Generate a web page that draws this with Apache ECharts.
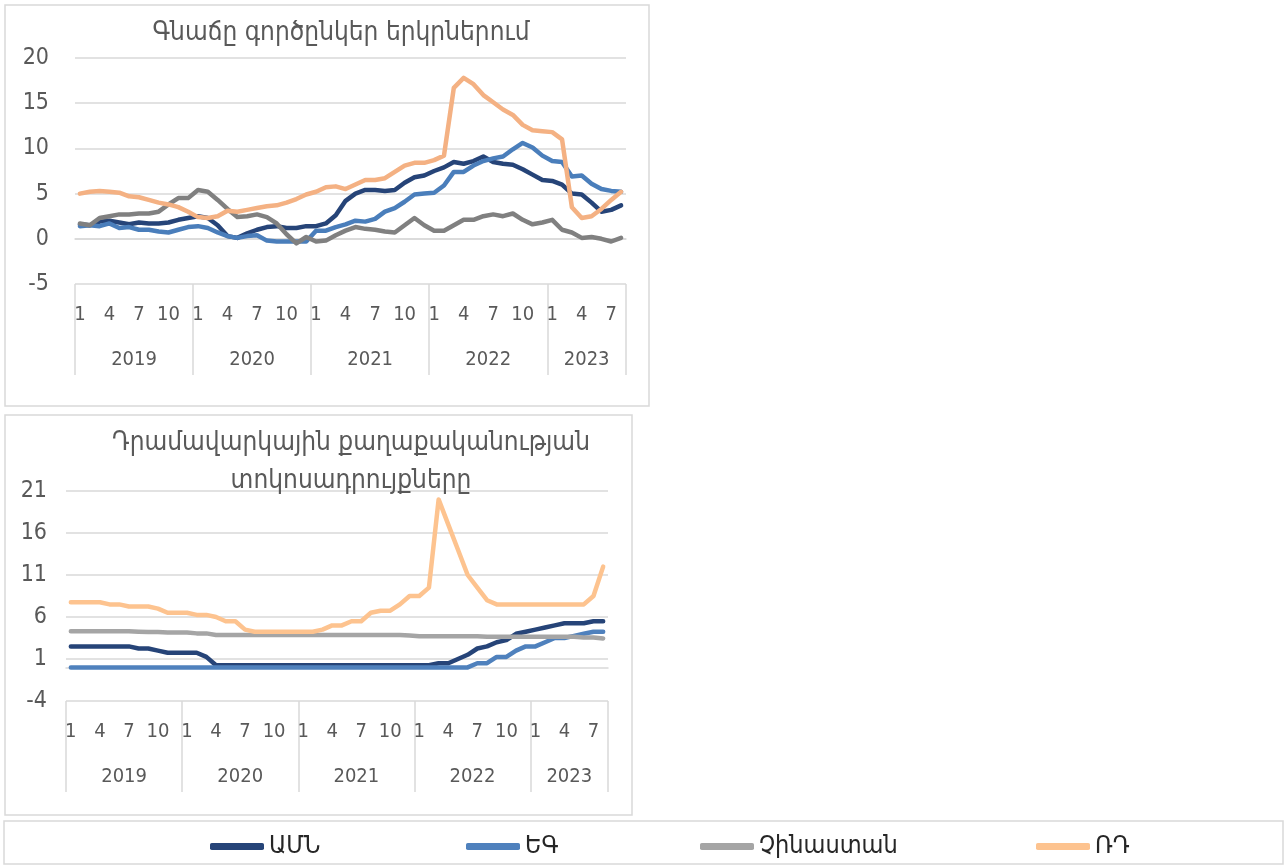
<!DOCTYPE html>
<html>
<head>
<meta charset="utf-8">
<script src="https://cdn.jsdelivr.net/npm/echarts@6/dist/echarts.min.js"></script>
<style>
    html, body { margin: 0; padding: 0; background: #fff; }
    #chart { width: 1287px; height: 866px; }
</style>
</head>
<body>
<div id="chart"></div>
<script>
    // tick labels / categories
    var years = ['2019', '2020', '2021', '2022', '2023'];
    var monthsPerYear = [12, 12, 12, 12, 8];
    var seriesNames = ['ԱՄՆ', 'ԵԳ', 'Չինաստան', 'ՌԴ'];

    // inflation, % y/y (top panel)
    var usInfl = [1.6, 1.5, 1.9, 2.0, 1.8, 1.6, 1.8, 1.7, 1.7, 1.8, 2.1, 2.3,
        2.5, 2.3, 1.5, 0.3, 0.1, 0.6, 1.0, 1.3, 1.4, 1.2, 1.2, 1.4,
        1.4, 1.7, 2.6, 4.2, 5.0, 5.4, 5.4, 5.3, 5.4, 6.2, 6.8, 7.0,
        7.5, 7.9, 8.5, 8.3, 8.6, 9.1, 8.5, 8.3, 8.2, 7.7, 7.1, 6.5,
        6.4, 6.0, 5.0, 4.9, 4.0, 3.0, 3.2, 3.7];
    var euInfl = [1.4, 1.5, 1.4, 1.7, 1.2, 1.3, 1.0, 1.0, 0.8, 0.7, 1.0, 1.3,
        1.4, 1.2, 0.7, 0.3, 0.1, 0.3, 0.4, -0.2, -0.3, -0.3, -0.3, -0.3,
        0.9, 0.9, 1.3, 1.6, 2.0, 1.9, 2.2, 3.0, 3.4, 4.1, 4.9, 5.0,
        5.1, 5.9, 7.4, 7.4, 8.1, 8.6, 8.9, 9.1, 9.9, 10.6, 10.1, 9.2,
        8.6, 8.5, 6.9, 7.0, 6.1, 5.5, 5.3, 5.2];
    var cnInfl = [1.7, 1.5, 2.3, 2.5, 2.7, 2.7, 2.8, 2.8, 3.0, 3.8, 4.5, 4.5,
        5.4, 5.2, 4.3, 3.3, 2.4, 2.5, 2.7, 2.4, 1.7, 0.5, -0.5, 0.2,
        -0.3, -0.2, 0.4, 0.9, 1.3, 1.1, 1.0, 0.8, 0.7, 1.5, 2.3, 1.5,
        0.9, 0.9, 1.5, 2.1, 2.1, 2.5, 2.7, 2.5, 2.8, 2.1, 1.6, 1.8,
        2.1, 1.0, 0.7, 0.1, 0.2, 0.0, -0.3, 0.1];
    var ruInfl = [5.0, 5.2, 5.3, 5.2, 5.1, 4.7, 4.6, 4.3, 4.0, 3.8, 3.5, 3.0,
        2.4, 2.3, 2.5, 3.1, 3.0, 3.2, 3.4, 3.6, 3.7, 4.0, 4.4, 4.9,
        5.2, 5.7, 5.8, 5.5, 6.0, 6.5, 6.5, 6.7, 7.4, 8.1, 8.4, 8.4,
        8.7, 9.2, 16.7, 17.8, 17.1, 15.9, 15.1, 14.3, 13.7, 12.6, 12.0, 11.9,
        11.8, 11.0, 3.5, 2.3, 2.5, 3.3, 4.3, 5.2];

    // policy rates, % (bottom panel)
    var usRate = [2.5, 2.5, 2.5, 2.5, 2.5, 2.5, 2.5, 2.25, 2.25, 2.0, 1.75, 1.75,
        1.75, 1.75, 1.25, 0.25, 0.25, 0.25, 0.25, 0.25, 0.25, 0.25, 0.25, 0.25,
        0.25, 0.25, 0.25, 0.25, 0.25, 0.25, 0.25, 0.25, 0.25, 0.25, 0.25, 0.25,
        0.25, 0.25, 0.5, 0.5, 1.0, 1.5, 2.25, 2.5, 3.0, 3.25, 4.0, 4.25,
        4.5, 4.75, 5.0, 5.25, 5.25, 5.25, 5.5, 5.5];
    var euRate = [0, 0, 0, 0, 0, 0, 0, 0, 0, 0, 0, 0,
        0, 0, 0, 0, 0, 0, 0, 0, 0, 0, 0, 0,
        0, 0, 0, 0, 0, 0, 0, 0, 0, 0, 0, 0,
        0, 0, 0, 0, 0, 0, 0.5, 0.5, 1.25, 1.25, 2.0, 2.5,
        2.5, 3.0, 3.5, 3.5, 3.75, 4.0, 4.25, 4.25];
    var cnRate = [4.31, 4.31, 4.31, 4.31, 4.31, 4.31, 4.31, 4.25, 4.2, 4.2, 4.15, 4.15,
        4.15, 4.05, 4.05, 3.85, 3.85, 3.85, 3.85, 3.85, 3.85, 3.85, 3.85, 3.85,
        3.85, 3.85, 3.85, 3.85, 3.85, 3.85, 3.85, 3.85, 3.85, 3.85, 3.85, 3.8,
        3.7, 3.7, 3.7, 3.7, 3.7, 3.7, 3.7, 3.65, 3.65, 3.65, 3.65, 3.65,
        3.65, 3.65, 3.65, 3.65, 3.65, 3.55, 3.55, 3.45];
    var ruRate = [7.75, 7.75, 7.75, 7.75, 7.5, 7.5, 7.25, 7.25, 7.25, 7.0, 6.5, 6.5,
        6.5, 6.25, 6.25, 6.0, 5.5, 5.5, 4.5, 4.25, 4.25, 4.25, 4.25, 4.25,
        4.25, 4.25, 4.5, 5.0, 5.0, 5.5, 5.5, 6.5, 6.75, 6.75, 7.5, 8.5,
        8.5, 9.5, 20, 17, 14, 11, 9.5, 8.0, 7.5, 7.5, 7.5, 7.5,
        7.5, 7.5, 7.5, 7.5, 7.5, 7.5, 8.5, 12];

    var font = "'Liberation Sans Narrow', 'DejaVu Sans Condensed', 'DejaVu Sans', sans-serif";
    var txtColor = '#595959';
    var gridColor = '#d9d9d9';
    var topColors = ['#264478', '#4a7ebb', '#808080', '#f4b183'];
    var botColors = ['#264478', '#4f81bd', '#a5a5a5', '#fdc38f'];

    // month categories + year boundaries
    var months = [];
    var yearBounds = [0];
    var yearMids = [];
    var total = 0;
    for (var y = 0; y < years.length; y++) {
        for (var m = 1; m <= monthsPerYear[y]; m++) {
            months.push(years[y] + '-' + m);
        }
        yearMids.push(total + monthsPerYear[y] / 2);
        total += monthsPerYear[y];
        yearBounds.push(total);
    }

    function monthAxis(gridIndex) {
        return {
            type: 'category',
            gridIndex: gridIndex,
            position: 'bottom',
            data: months,
            boundaryGap: true,
            axisLine: {show: true, lineStyle: {color: gridColor, width: 1.5}},
            axisTick: {show: false},
            axisLabel: {
                interval: 2,
                margin: 21,
                fontSize: 20,
                fontFamily: font,
                color: txtColor,
                formatter: function (v) { return v.split('-')[1]; }
            }
        };
    }

    function yearAxis(gridIndex) {
        return {
            type: 'value',
            gridIndex: gridIndex,
            position: 'bottom',
            min: 0,
            max: total,
            axisLine: {show: false},
            splitLine: {show: false},
            axisTick: {
                show: true,
                customValues: yearBounds,
                length: 91,
                lineStyle: {color: gridColor, width: 1.5}
            },
            axisLabel: {
                customValues: yearMids,
                margin: 66,
                fontSize: 20,
                fontFamily: font,
                color: txtColor,
                formatter: function (v) {
                    return years[yearMids.indexOf(v)];
                }
            }
        };
    }

    function valueAxis(gridIndex, min, max, margin) {
        return {
            type: 'value',
            gridIndex: gridIndex,
            min: min,
            max: max,
            interval: 5,
            axisLine: {show: false},
            axisTick: {show: false},
            splitLine: {lineStyle: {color: gridColor, width: 1.5}},
            axisLabel: {
                margin: margin,
                fontSize: 23,
                fontFamily: font,
                color: txtColor
            }
        };
    }

    function line(name, data, color, axisIndex) {
        return {
            name: name,
            type: 'line',
            xAxisIndex: axisIndex,
            yAxisIndex: axisIndex,
            data: data,
            symbol: 'none',
            lineStyle: {color: color, width: 4.5, cap: 'round', join: 'round'},
            itemStyle: {color: color}
        };
    }

    var topData = [usInfl, euInfl, cnInfl, ruInfl];
    var botData = [usRate, euRate, cnRate, ruRate];
    var series = [];
    seriesNames.forEach(function (n, i) { series.push(line(n, botData[i], botColors[i], 1)); });
    seriesNames.forEach(function (n, i) { series.push(line(n, topData[i], topColors[i], 0)); });

    var legendLeft = [210, 466, 700, 1036];
    var legends = seriesNames.map(function (n, i) {
        return {
            data: [{name: n, itemStyle: {color: botColors[i]}}],
            left: legendLeft[i],
            top: 834,
            padding: 0,
            icon: 'roundRect',
            itemWidth: 54,
            itemHeight: 7,
            selectedMode: false,
            textStyle: {fontSize: 25, fontFamily: font, color: '#262626'}
        };
    });

    var chart = echarts.init(document.getElementById('chart'));
    chart.setOption({
        animation: false,
        backgroundColor: '#fff',
        title: [
            {
                text: 'Գնաճը գործընկեր երկրներում',
                left: 341,
                top: 20,
                padding: 0,
                textAlign: 'center',
                textStyle: {fontSize: 26, fontWeight: 'normal', fontFamily: font, color: txtColor}
            },
            {
                text: 'Դրամավարկային քաղաքականության\nտոկոսադրույքները',
                left: 351,
                top: 424,
                padding: 0,
                textAlign: 'center',
                textStyle: {fontSize: 26, fontWeight: 'normal', fontFamily: font, color: txtColor, lineHeight: 38}
            }
        ],
        legend: legends,
        grid: [
            {left: 75, top: 58, width: 551, height: 226},
            {left: 66, top: 491, width: 542, height: 210}
        ],
        xAxis: [monthAxis(0), monthAxis(1), yearAxis(0), yearAxis(1)],
        yAxis: [valueAxis(0, -5, 20, 26), valueAxis(1, -4, 21, 19)],
        series: series,
        graphic: [
            {type: 'rect', silent: true, z: -1, shape: {x: 5, y: 5, width: 644, height: 401},
                style: {fill: 'none', stroke: gridColor, lineWidth: 1.5}},
            {type: 'rect', silent: true, z: -1, shape: {x: 5, y: 415, width: 627, height: 400},
                style: {fill: 'none', stroke: gridColor, lineWidth: 1.5}},
            {type: 'rect', silent: true, z: -1, shape: {x: 4, y: 821, width: 1279, height: 43},
                style: {fill: 'none', stroke: gridColor, lineWidth: 1.5}}
        ]
    });
</script>
</body>
</html>
